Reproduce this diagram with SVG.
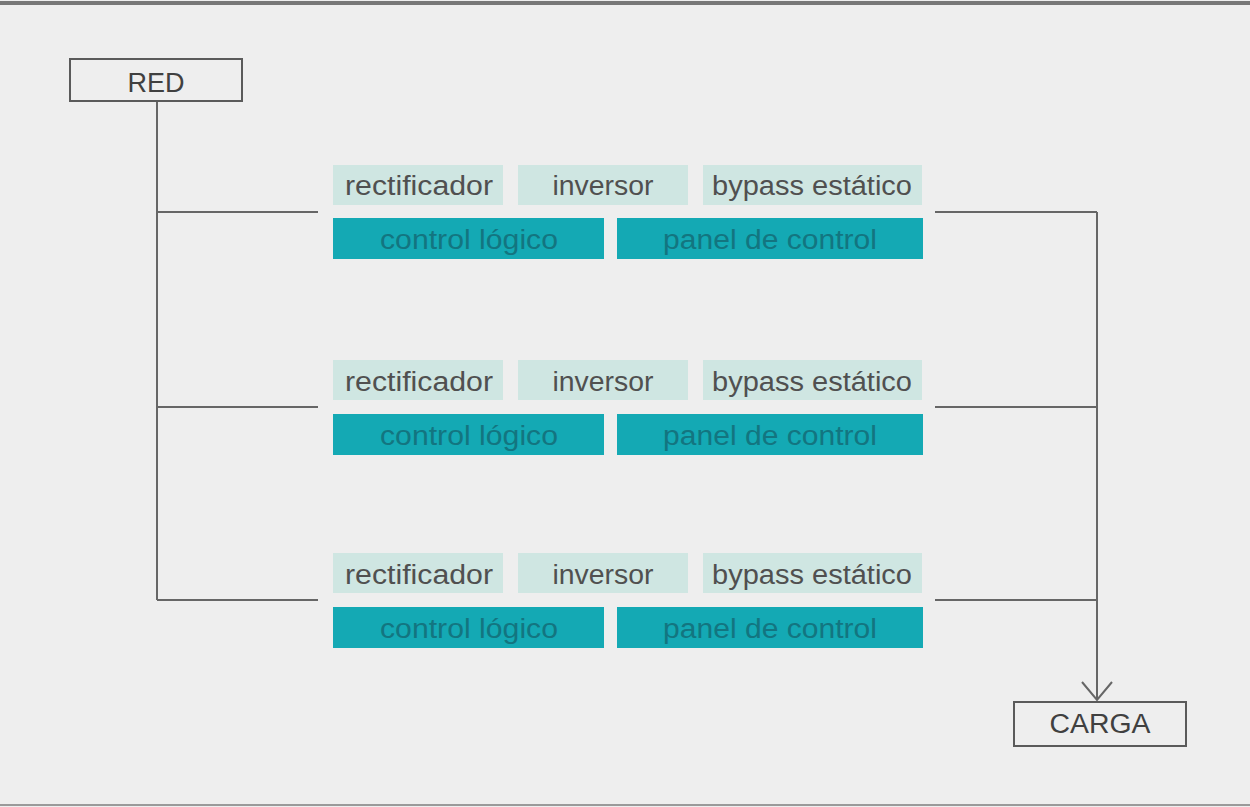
<svg xmlns="http://www.w3.org/2000/svg" width="1250" height="807" viewBox="0 0 1250 807">
  <defs>
    <style>
      .bg { fill: #eeeeee; }
      .frame { fill: none; stroke: #5a5a5a; stroke-width: 2; }
      .wire { fill: none; stroke: #666666; stroke-width: 2; }
      .mod { fill: #cfe6e2; }
      .ctl { fill: #14a9b4; }
      .t { font-family: "Liberation Sans", Arial, sans-serif; font-size: 27px; text-anchor: middle; }
      .tm { fill: #505050; }
      .tc { fill: #137580; }
      .tf { fill: #404040; }
    </style>
    <!-- open V arrowhead, drawn along +x so orient="auto" points it down the line -->
    <marker id="vee" markerWidth="22" markerHeight="34" refX="19" refY="16" orient="auto" markerUnits="userSpaceOnUse" viewBox="0 0 22 34">
      <path d="M1 1 L19 16 L1 31" fill="none" stroke="#666666" stroke-width="2"/>
    </marker>
  </defs>

  <!-- page background and rules -->
  <rect class="bg" x="0" y="0" width="1250" height="807"/>
  <rect x="0" y="1" width="1250" height="4" fill="#777777"/>
  <rect x="0" y="804" width="1250" height="2" fill="#9a9a9a"/>

  <!-- connectors -->
  <g id="connectors">
    <path class="wire" d="M157 101 V600"/>
    <path class="wire" d="M157 212 H318"/>
    <path class="wire" d="M157 407 H318"/>
    <path class="wire" d="M157 600 H318"/>
    <path class="wire" d="M935 212 H1097"/>
    <path class="wire" d="M935 407 H1097"/>
    <path class="wire" d="M935 600 H1097"/>
    <path class="wire" d="M1097 212 V700" marker-end="url(#vee)"/>
  </g>

  <!-- source -->
  <g id="red">
    <rect class="frame" x="70" y="59" width="172" height="42"/>
    <text class="t tf" x="156" y="92" textLength="57" lengthAdjust="spacingAndGlyphs">RED</text>
  </g>

  <!-- UPS unit 1 -->
  <g id="ups1">
    <rect class="mod" x="333" y="165" width="170" height="40"/>
    <text class="t tm" x="419" y="195" textLength="148" lengthAdjust="spacingAndGlyphs">rectificador</text>
    <rect class="mod" x="518" y="165" width="170" height="40"/>
    <text class="t tm" x="603" y="195" textLength="101" lengthAdjust="spacingAndGlyphs">inversor</text>
    <rect class="mod" x="703" y="165" width="219" height="40"/>
    <text class="t tm" x="812" y="195" textLength="200" lengthAdjust="spacingAndGlyphs">bypass estático</text>
    <rect class="ctl" x="333" y="218" width="271" height="41"/>
    <text class="t tc" x="469" y="249" textLength="178" lengthAdjust="spacingAndGlyphs">control lógico</text>
    <rect class="ctl" x="617" y="218" width="306" height="41"/>
    <text class="t tc" x="770" y="249" textLength="214" lengthAdjust="spacingAndGlyphs">panel de control</text>
  </g>

  <!-- UPS unit 2 -->
  <g id="ups2">
    <rect class="mod" x="333" y="360" width="170" height="40"/>
    <text class="t tm" x="419" y="391" textLength="148" lengthAdjust="spacingAndGlyphs">rectificador</text>
    <rect class="mod" x="518" y="360" width="170" height="40"/>
    <text class="t tm" x="603" y="391" textLength="101" lengthAdjust="spacingAndGlyphs">inversor</text>
    <rect class="mod" x="703" y="360" width="219" height="40"/>
    <text class="t tm" x="812" y="391" textLength="200" lengthAdjust="spacingAndGlyphs">bypass estático</text>
    <rect class="ctl" x="333" y="414" width="271" height="41"/>
    <text class="t tc" x="469" y="445" textLength="178" lengthAdjust="spacingAndGlyphs">control lógico</text>
    <rect class="ctl" x="617" y="414" width="306" height="41"/>
    <text class="t tc" x="770" y="445" textLength="214" lengthAdjust="spacingAndGlyphs">panel de control</text>
  </g>

  <!-- UPS unit 3 -->
  <g id="ups3">
    <rect class="mod" x="333" y="553" width="170" height="40"/>
    <text class="t tm" x="419" y="584" textLength="148" lengthAdjust="spacingAndGlyphs">rectificador</text>
    <rect class="mod" x="518" y="553" width="170" height="40"/>
    <text class="t tm" x="603" y="584" textLength="101" lengthAdjust="spacingAndGlyphs">inversor</text>
    <rect class="mod" x="703" y="553" width="219" height="40"/>
    <text class="t tm" x="812" y="584" textLength="200" lengthAdjust="spacingAndGlyphs">bypass estático</text>
    <rect class="ctl" x="333" y="607" width="271" height="41"/>
    <text class="t tc" x="469" y="638" textLength="178" lengthAdjust="spacingAndGlyphs">control lógico</text>
    <rect class="ctl" x="617" y="607" width="306" height="41"/>
    <text class="t tc" x="770" y="638" textLength="214" lengthAdjust="spacingAndGlyphs">panel de control</text>
  </g>

  <!-- load -->
  <g id="carga">
    <rect class="frame" x="1014" y="702" width="172" height="44"/>
    <text class="t tf" x="1100" y="733" textLength="101" lengthAdjust="spacingAndGlyphs">CARGA</text>
  </g>
</svg>
